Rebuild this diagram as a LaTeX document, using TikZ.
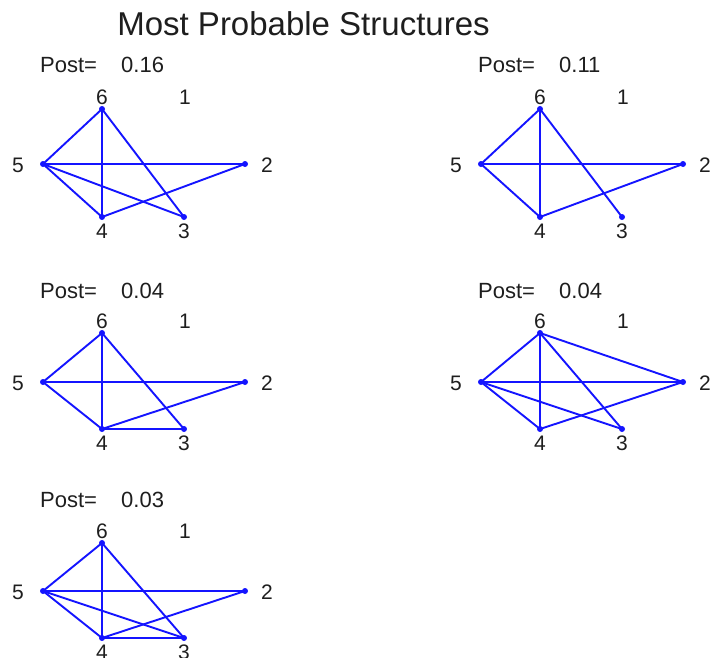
\documentclass[tikz,border=0pt]{standalone}
\usepackage{fontspec}
\setmainfont{Liberation Sans}
\definecolor{edgeblue}{RGB}{20,20,255}
\definecolor{txt}{RGB}{30,30,30}
\newcommand\mypanel[8]{%
  % #1 prefix, #2 x offset, #3 y top, #4 y mid, #5 y bottom, #6 post baseline, #7 value, #8 edges
  \coordinate (#1-1) at (#2+184,#3);
  \node[dot] (#1-2) at (#2+245,#4) {};
  \node[dot] (#1-3) at (#2+184,#5) {};
  \node[dot] (#1-4) at (#2+102,#5) {};
  \node[dot] (#1-5) at (#2+43,#4) {};
  \node[dot] (#1-6) at (#2+102,#3) {};
  \foreach \u/\v in {#8} \draw[edge] (#1-\u.center) -- (#1-\v.center);
  \node[lbl] (#1-l1) at (#2+185,#3-12) {1};
  \node[lbl] (#1-l2) at (#2+267,#4+1) {2};
  \node[lbl] (#1-l3) at (#2+184,#5+14) {3};
  \node[lbl] (#1-l4) at (#2+102,#5+14) {4};
  \node[lbl] (#1-l5) at (#2+18,#4+1) {5};
  \node[lbl] (#1-l6) at (#2+102,#3-12) {6};
  \node[post] (#1-post) at (#2+40,#6) {Post=};
  \node[post] (#1-val) at (#2+121,#6) {#7};
}
\begin{document}
\begin{tikzpicture}[x=1pt,y=-1pt,
  dot/.style={circle,fill=edgeblue,inner sep=0pt,minimum size=6pt},
  edge/.style={draw=edgeblue,line width=1.9pt},
  lbl/.style={inner sep=0pt,text=txt,font=\fontsize{21}{24}\selectfont},
  post/.style={inner sep=0pt,anchor=base west,text=txt,font=\fontsize{22}{26}\selectfont},
  title/.style={inner sep=0pt,anchor=base,text=txt,font=\fontsize{33}{38}\selectfont}]
\useasboundingbox (0,0) rectangle (714,657);
\fill[white] (0,0) rectangle (714,657);
\node[title] (title) at (303.5,35) {Most Probable Structures};
\mypanel{a}{0}{109}{164}{217}{72}{0.16}{6/5,6/4,6/3,5/2,5/4,5/3,4/2}
\mypanel{b}{438}{109}{164}{217}{72}{0.11}{6/5,6/4,6/3,5/2,5/4,4/2}
\mypanel{c}{0}{333}{382}{429}{298}{0.04}{6/5,6/4,6/3,5/2,5/4,4/2,4/3}
\mypanel{d}{438}{333}{382}{429}{298}{0.04}{6/5,6/4,6/3,6/2,5/2,5/4,5/3,4/2}
\mypanel{e}{0}{543}{591}{638}{507}{0.03}{6/5,6/4,6/3,5/2,5/4,5/3,4/2,4/3}
\end{tikzpicture}
\end{document}
